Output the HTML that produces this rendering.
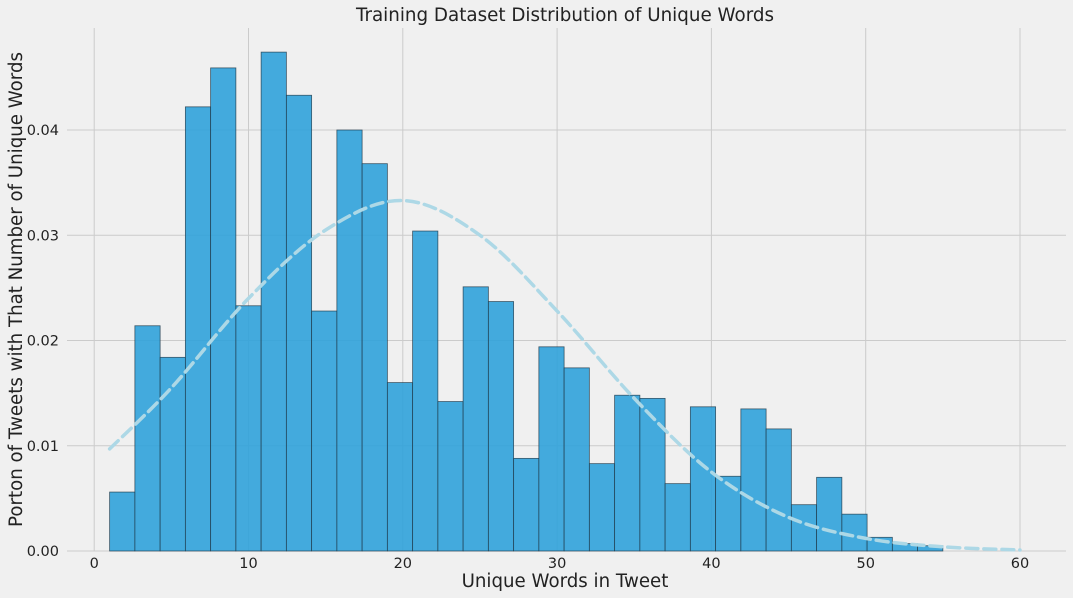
<!DOCTYPE html>
<html><head><meta charset="utf-8"><style>
body{margin:0;background:#f0f0f0;}
svg{display:block;font-family:"DejaVu Sans","Liberation Sans",sans-serif;}
</style></head><body>
<svg id="chart" width="1073" height="598">
<rect width="1073" height="598" fill="#f0f0f0"/>
<g id="grid"></g><g id="bars"></g><g id="curve"></g><g id="ticks"></g>
<text x="565" y="21" text-anchor="middle" font-size="18.3" fill="#222">Training Dataset Distribution of Unique Words</text>
<text x="565" y="587" text-anchor="middle" font-size="18.2" fill="#222">Unique Words in Tweet</text>
<text transform="translate(22,289.5) rotate(-90)" text-anchor="middle" font-size="18.2" fill="#222">Porton of Tweets with That Number of Unique Words</text>
</svg>
<script>
const binStart=1, binEnd=55;
const binValues=[0.0056,0.0214,0.0184,0.0422,0.0459,0.0233,0.0474,0.0433,0.0228,0.0400,0.0368,0.0160,0.0304,0.0142,0.0251,0.0237,0.0088,0.0194,0.0174,0.0083,0.0148,0.0145,0.0064,0.0137,0.0071,0.0135,0.0116,0.0044,0.0070,0.0035,0.0013,0.0007,0.0005];
const curveX=[1,5,10,15,20,25,30,35,40,45,50,55,60];
const curveY=[0.0097,0.0155,0.0240,0.0305,0.0333,0.0300,0.0228,0.0145,0.0075,0.0032,0.0012,0.0004,0.0001];
const xTicks=[0,10,20,30,40,50,60];
const yTicks=[0,0.01,0.02,0.03,0.04];
const yTickLabels=["0.00","0.01","0.02","0.03","0.04"];
const NS="http://www.w3.org/2000/svg";
const L=67,R=1066,T=28,B=551;
const sx=v=>94.2+15.43*v;
const sy=v=>551-10525*v;
function mk(tag,attrs,parent){const e=document.createElementNS(NS,tag);for(const k in attrs)e.setAttribute(k,attrs[k]);document.getElementById(parent).appendChild(e);return e;}
xTicks.forEach(t=>{
 const g=mk('line',{x1:sx(t),x2:sx(t),y1:T,y2:B,stroke:'#cbcbcb','stroke-width':1},'grid');
 
 
 const tx=mk('text',{x:sx(t),y:568,'text-anchor':'middle','font-size':14.5,fill:'#222'},'ticks');
 tx.textContent=t;
 
 
});
yTicks.forEach((t,i)=>{
 const g=mk('line',{x1:L,x2:R,y1:sy(t),y2:sy(t),stroke:'#cbcbcb','stroke-width':1},'grid');
 
 
 const tx=mk('text',{x:59,y:sy(t)+5,'text-anchor':'end','font-size':14.5,fill:'#222'},'ticks');
 tx.textContent=yTickLabels[i];
 
 
});
const w=(binEnd-binStart)/binValues.length;
binValues.forEach((v,i)=>{
 const x0=sx(binStart+i*w),x1=sx(binStart+(i+1)*w);
 const r=mk('rect',{x:x0,y:sy(v),width:x1-x0,height:sy(0)-sy(v),fill:'#30a2da','fill-opacity':0.9,stroke:'#1f3a4a','stroke-opacity':0.8,'stroke-width':0.8},'bars');
 
 
});
const pts=curveX.map((x,i)=>[sx(x),sy(curveY[i])]);
let d=`M${pts[0][0]},${pts[0][1]}`;
for(let i=0;i<pts.length-1;i++){
 const p0=pts[Math.max(0,i-1)],p1=pts[i],p2=pts[i+1],p3=pts[Math.min(pts.length-1,i+2)];
 const c1=[p1[0]+(p2[0]-p0[0])/6,p1[1]+(p2[1]-p0[1])/6],c2=[p2[0]-(p3[0]-p1[0])/6,p2[1]-(p3[1]-p1[1])/6];
 d+=` C${c1[0]},${c1[1]} ${c2[0]},${c2[1]} ${p2[0]},${p2[1]}`;
}
const c=mk('path',{d:d,fill:'none',stroke:'#add8e6','stroke-width':3.5,'stroke-dasharray':'12,6','stroke-linecap':'round'},'curve');


</script>
</body></html>
